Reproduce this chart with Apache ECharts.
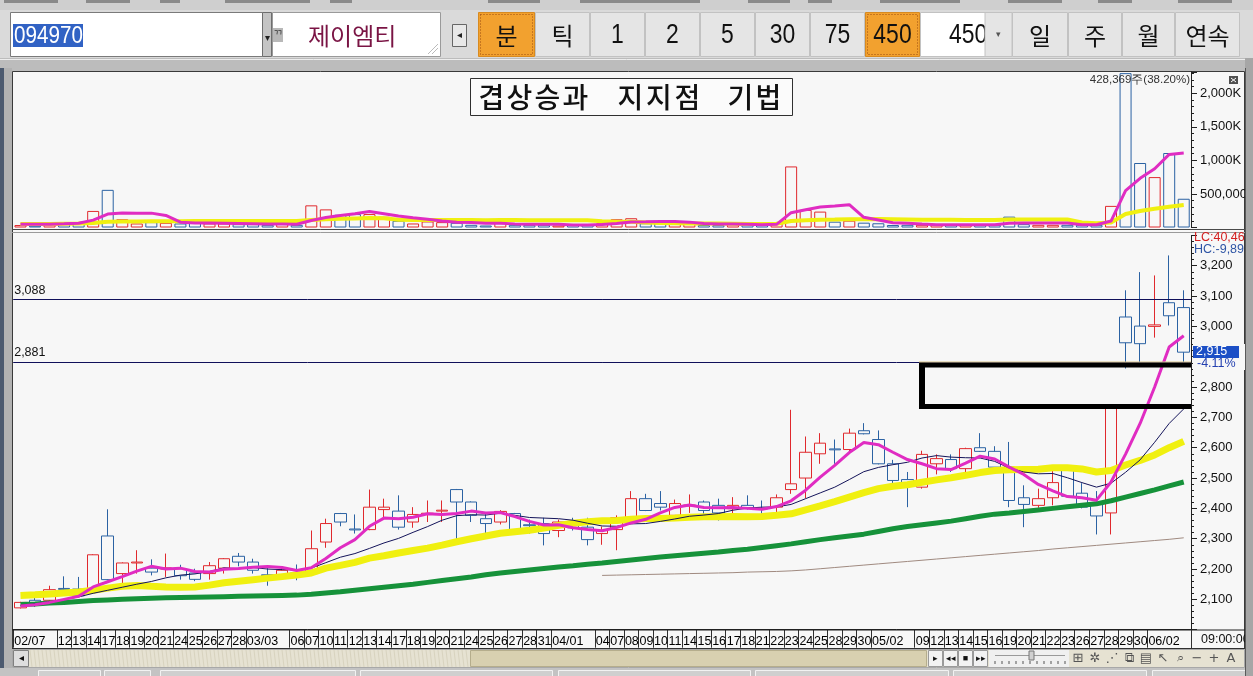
<!DOCTYPE html>
<html><head><meta charset="utf-8">
<script src="https://cdn.jsdelivr.net/npm/echarts@6/dist/echarts.min.js"></script>
<style>html,body{margin:0;padding:0;background:#c9c9c9;overflow:hidden}#c{width:1253px;height:676px}</style>
</head><body><div id="c"></div>
<script>
// ---------------- data ----------------
const dateLabels = ['02/07','','','12','13','14','17','18','19','20','21','24','25','26','27','28','03/03','','','06','07','10','11','12','13','14','17','18','19','20','21','24','25','26','27','28','31','04/01','','','04','07','08','09','10','11','14','15','16','17','18','21','22','23','24','25','28','29','30','05/02','','','09','12','13','14','15','16','19','20','21','22','23','26','27','28','29','30','06/02','',''];
const opens  = [2072,2097,2097,2136,2134,2124,2309,2185,2220,2203,2200,2201,2187,2185,2203,2242,2223,2181,2180,2187,2185,2289,2383,2332,2330,2396,2391,2355,2381,2391,2462,2421,2366,2355,2383,2346,2350,2327,2350,2338,2317,2330,2366,2432,2416,2377,2408,2421,2410,2399,2410,2400,2404,2462,2500,2580,2596,2594,2656,2627,2547,2495,2470,2547,2561,2531,2600,2588,2536,2435,2410,2435,2528,2450,2415,2385,3031,3001,3000,3078,3062];
const closes = [2090,2082,2132,2133,2112,2247,2165,2220,2223,2190,2204,2178,2166,2211,2234,2223,2196,2178,2196,2184,2267,2350,2355,2329,2404,2404,2338,2380,2384,2394,2421,2377,2350,2390,2327,2343,2317,2355,2336,2297,2327,2369,2432,2393,2404,2416,2411,2393,2385,2410,2401,2398,2435,2481,2585,2615,2593,2648,2646,2547,2492,2473,2578,2564,2531,2597,2588,2536,2426,2413,2432,2485,2440,2404,2375,2732,2946,2943,3005,3035,2915];
const highs  = [2092,2113,2145,2176,2174,2249,2397,2222,2262,2232,2251,2214,2201,2223,2236,2253,2234,2209,2206,2215,2327,2366,2385,2380,2462,2432,2443,2404,2426,2426,2464,2423,2383,2394,2385,2363,2369,2363,2369,2369,2340,2377,2457,2448,2457,2429,2446,2426,2432,2437,2443,2426,2446,2725,2637,2648,2627,2663,2681,2657,2560,2520,2590,2578,2578,2600,2648,2605,2619,2476,2465,2531,2530,2483,2457,2735,3119,3179,3168,3234,3119];
const lows   = [2070,2075,2086,2127,2110,2120,2163,2146,2185,2179,2174,2165,2160,2165,2185,2209,2185,2145,2174,2163,2183,2270,2341,2317,2328,2369,2330,2336,2355,2355,2297,2355,2314,2347,2325,2317,2278,2305,2327,2278,2280,2262,2360,2391,2393,2366,2385,2369,2360,2383,2396,2383,2369,2448,2433,2547,2547,2580,2644,2545,2475,2404,2465,2512,2520,2512,2586,2520,2404,2338,2402,2410,2438,2400,2314,2314,2861,2882,2963,3003,2880];
const volumesK = [37,27,78,78,78,247,561,123,60,80,70,60,70,60,60,50,50,40,60,40,330,270,190,200,200,160,100,60,90,80,70,40,30,90,40,40,40,30,40,40,63,123,138,63,63,63,72,37,37,50,37,37,72,910,262,237,87,102,72,63,37,40,40,40,40,40,40,40,162,50,40,40,40,40,40,322,2300,961,751,1110,428.369];
const volMa5K  = [50,50,50,55,62,110,200,215,214,214,180,80,68,68,64,60,56,52,52,48,104,148,178,206,238,204,170,144,122,98,80,76,62,62,54,48,48,48,38,38,43,59,81,85,90,90,80,60,54,52,47,40,47,221,264,304,320,340,152,112,72,63,51,40,40,40,40,40,64,66,66,66,66,42,40,96,548,733,875,1089,1110];
const volMa20K = [52,52,54,56,58,68,85,88,90,92,93,94,95,95,96,96,96,95,96,96,111,123,129,135,141,137,114,110,112,112,112,111,109,110,110,109,108,108,107,107,93,86,84,76,68,64,61,60,58,56,54,54,55,96,107,117,119,123,124,126,124,120,116,114,114,113,112,112,119,119,119,119,119,76,64,75,200,245,280,310,335];
const ma5   = [2078,2082,2090,2100,2110,2141,2158,2175,2193,2209,2200,2203,2192,2190,2199,2202,2206,2208,2205,2195,2204,2235,2270,2297,2341,2368,2366,2371,2382,2380,2383,2391,2385,2386,2373,2357,2345,2346,2336,2330,2326,2337,2352,2364,2385,2403,2411,2403,2402,2403,2400,2397,2406,2425,2460,2503,2542,2584,2617,2610,2585,2561,2547,2531,2528,2549,2572,2563,2536,2512,2479,2458,2439,2435,2427,2487,2579,2680,2800,2932,2969];
const ma10  = [2080,2085,2092,2100,2108,2120,2130,2140,2150,2159,2171,2180,2184,2192,2204,2201,2205,2200,2198,2197,2203,2221,2239,2251,2268,2286,2301,2321,2340,2361,2376,2379,2378,2384,2377,2370,2368,2366,2361,2351,2342,2341,2349,2350,2357,2365,2374,2378,2383,2394,2401,2404,2405,2413,2432,2451,2470,2495,2521,2535,2544,2552,2566,2574,2569,2567,2566,2555,2533,2520,2514,2515,2501,2485,2470,2483,2519,2560,2618,2680,2728];
const ma20  = [2113,2115,2118,2121,2124,2130,2137,2143,2146,2143,2141,2140,2141,2147,2155,2160,2165,2170,2175,2180,2187,2203,2212,2222,2236,2244,2253,2261,2269,2279,2290,2300,2309,2318,2323,2328,2335,2344,2351,2356,2359,2360,2364,2367,2367,2368,2371,2372,2372,2373,2372,2373,2377,2382,2395,2408,2422,2437,2452,2465,2473,2478,2486,2494,2501,2509,2518,2525,2527,2528,2529,2534,2534,2530,2520,2525,2543,2558,2576,2600,2621];
const ma60  = [2083,2085,2088,2090,2093,2096,2098,2100,2102,2104,2105,2106,2107,2108,2109,2110,2111,2112,2113,2114,2117,2121,2125,2130,2135,2140,2145,2150,2156,2162,2168,2174,2181,2187,2192,2197,2202,2207,2211,2216,2220,2225,2230,2235,2240,2244,2248,2252,2256,2261,2265,2271,2277,2283,2290,2297,2303,2309,2315,2324,2333,2340,2346,2352,2358,2366,2374,2381,2385,2390,2395,2400,2405,2410,2415,2425,2437,2449,2461,2474,2487];
const ma120 = [null,null,null,null,null,null,null,null,null,null,null,null,null,null,null,null,null,null,null,null,null,null,null,null,null,null,null,null,null,null,null,null,null,null,null,null,null,null,null,null,2179,2180,2181,2182,2183,2184,2185,2186,2187,2188,2190,2191,2192,2194,2197,2201,2205,2209,2213,2217,2221,2225,2229,2233,2237,2241,2245,2249,2253,2257,2261,2266,2270,2274,2278,2282,2286,2290,2294,2298,2303];
const priceLines = [3088, 2881];
const gapZone = {startIndex: 62, top: 2881, bottom: 2728};
const lastInfo = {close: '2,915', change: '-4.11%', volText: '428,369주(38.20%)', lc: 'LC:40,46', hc: 'HC:-9,89', time: '09:00:00'};
const titleWords = ['겹상승과', '지지점', '기법'];
const toolbarButtons = [['분',478,535,true],['틱',535,590,false],['1',590,645,false],['2',645,700,false],['5',700,755,false],['30',755,810,false],['75',810,865,false],['450',865,920,true],['일',1012,1068,false],['주',1068,1122,false],['월',1122,1175,false],['연속',1175,1240,false]];

// ---------------- styles ----------------
const RED='#e0292d', BLUE='#2b62a3', MAG='#e02cc2', YEL='#f0f010', GRN='#16923a', NAVY='#14145a', BRN='#a08a80';
const SANS="'Liberation Sans',Arial,sans-serif";
const KR="'Noto Sans CJK KR','Noto Sans',sans-serif";
const GL=13.2, GW=1177.8;

const chart = echarts.init(document.getElementById('c'), null, {renderer:'canvas', width:1253, height:676});
const volumes = volumesK.map(v=>Math.round(v*1000));
const volData = volumes.map((v,i)=>({value:v, itemStyle:{borderColor: closes[i]>=opens[i]?RED:BLUE}}));
const candleData = opens.map((o,i)=>[o, closes[i], lows[i], highs[i]]);
function fmtVol(v){ if(v===0||v%500000!==0) return ''; if(v===500000) return '500,000'; return (v/1000).toLocaleString('en-US')+'K'; }

const option = {
  animation:false,
  backgroundColor:'#c9c9c9',
  grid:[
    {left:GL, width:GW, top:71.8, height:155.7},
    {left:GL, width:GW, top:235.4, height:394.3}
  ],
  xAxis:[
    {type:'category', gridIndex:0, data:dateLabels, boundaryGap:true, axisLine:{show:false}, axisTick:{show:false}, axisLabel:{show:false}},
    {type:'category', gridIndex:1, data:dateLabels, boundaryGap:true, axisLine:{show:false}, axisTick:{show:false}, axisLabel:{show:false}},
    {type:'category', gridIndex:1, data:dateLabels.concat(['']), boundaryGap:false, position:'bottom',
      axisLine:{show:true, lineStyle:{color:'#202020', width:1}},
      axisTick:{show:true, length:18, interval:(i,v)=>v!=='', lineStyle:{color:'#303030'}},
      axisLabel:{interval:0, align:'left', margin:5, fontSize:12.5, fontFamily:SANS, color:'#000', padding:[0,0,0,1], hideOverlap:false}}
  ],
  yAxis:[
    {type:'value', gridIndex:0, position:'right', min:0, max:2320000, interval:500000, splitLine:{show:false},
      axisLine:{show:true, lineStyle:{color:'#202020'}}, axisTick:{show:true, length:6, lineStyle:{color:'#202020'}},
      minorTick:{show:true, splitNumber:5, length:3, lineStyle:{color:'#202020'}},
      axisLabel:{margin:9, fontSize:13, fontFamily:SANS, color:'#111', formatter:fmtVol}},
    {type:'value', gridIndex:1, position:'right', min:2000, max:3300, interval:100, splitLine:{show:false},
      axisLine:{show:true, lineStyle:{color:'#202020'}}, axisTick:{show:true, length:6, lineStyle:{color:'#202020'}},
      minorTick:{show:true, splitNumber:5, length:3, lineStyle:{color:'#202020'}},
      axisLabel:{margin:9, fontSize:13, fontFamily:SANS, color:'#111', formatter:v=>(v<=2000||v>=3300)?'':v.toLocaleString('en-US')}}
  ],
  series:[
    {type:'bar', xAxisIndex:0, yAxisIndex:0, data:volData, barWidth:12, itemStyle:{color:'rgba(0,0,0,0)', borderWidth:1}, silent:true},
    {type:'line', xAxisIndex:0, yAxisIndex:0, data:volMa20K.map(v=>v*1000), symbol:'none', lineStyle:{color:YEL, width:4}, silent:true},
    {type:'line', xAxisIndex:0, yAxisIndex:0, data:volMa5K.map(v=>v*1000), symbol:'none', lineStyle:{color:MAG, width:3}, silent:true},
    {type:'line', xAxisIndex:1, yAxisIndex:1, data:ma60, symbol:'none', lineStyle:{color:GRN, width:5}, silent:true},
    {type:'line', xAxisIndex:1, yAxisIndex:1, data:ma20, symbol:'none', lineStyle:{color:YEL, width:7}, silent:true},
    {type:'line', xAxisIndex:1, yAxisIndex:1, data:ma120, symbol:'none', lineStyle:{color:BRN, width:1}, silent:true},
    {type:'line', xAxisIndex:1, yAxisIndex:1, data:ma10, symbol:'none', lineStyle:{color:NAVY, width:1}, silent:true},
    {type:'line', xAxisIndex:1, yAxisIndex:1, data:ma5, symbol:'none', lineStyle:{color:MAG, width:3}, silent:true},
    {type:'candlestick', xAxisIndex:1, yAxisIndex:1, data:candleData, barWidth:12, silent:true,
      itemStyle:{color:'rgba(0,0,0,0)', color0:'rgba(0,0,0,0)', borderColor:RED, borderColor0:BLUE, borderWidth:1},
      markLine:{silent:true, symbol:'none', animation:false,
        lineStyle:{color:'#10105a', width:1, type:'solid'},
        label:{position:'insideStartTop', color:'#111', fontSize:12.5, fontFamily:SANS, distance:[1,3], formatter:p=>p.value.toLocaleString('en-US')},
        data:priceLines.map(v=>({yAxis:v}))}}
  ]
};
chart.setOption(option);

// ---------------- chrome / annotations ----------------
const g = [];
function rect(x,y,w,h,fill,stroke,z,lw){ g.push({type:'rect', z:z||0, shape:{x,y,width:w,height:h}, style:{fill:fill||'none', stroke:stroke||null, lineWidth:lw||1}, silent:true}); }
function line(x1,y1,x2,y2,stroke,z,lw,dash){ g.push({type:'line', z:z||0, shape:{x1,y1,x2,y2}, style:{stroke, lineWidth:lw||1, lineDash:dash||null}, silent:true}); }
function text(t,x,y,font,fill,align,z,sx){ g.push({type:'text', z:z||0, x, y, scaleX:sx||1, style:{text:t, font, fill, textAlign:align||'left', textVerticalAlign:'middle'}, silent:true}); }

// backgrounds
rect(0,0,1253,10,'#cfcfcf',null,-10);
[[4,58],[86,130],[160,180],[225,310],[330,352],[488,540],[580,700],[748,790],[808,832],[880,960],[1008,1062],[1098,1132],[1178,1232]].forEach(([a,b])=>rect(a,0,b-a,3,'#8a8a8a',null,-9));
rect(0,10,1253,49,'#dadada',null,-10);
rect(0,58,1253,14,'#bcbcbc',null,-10);
line(0,59.5,1253,59.5,'#ededed',-9);
rect(0,68,4,608,'#4c5a6f',null,-9);
rect(4,68,8,608,'#b2b2b2',null,-9);
rect(12.5,71.5,1232,577,'#f7f7f7','#3a3a3a',-8);
// pane separators
line(12,229.5,1245,229.5,'#4a4a4a',5);
line(12,232.5,1245,232.5,'#9a9a9a',5);
line(12,630,1245,630,'#202020',5);
line(12,648.5,1245,648.5,'#303030',5);
line(1191.5,630,1191.5,648,'#303030',5);
text(lastInfo.time,1201,640,'12.5px '+SANS,'#111','left',5);

// toolbar
rect(10.5,12.5,252,44,'#ffffff','#7a7a7a',1);
rect(13,24,70,23,'#3162c4',null,2);
text('094970',14,36,'24px '+SANS,'#ffffff','left',3,0.86);
rect(262.5,12.5,9,44,'#c4c4c4','#6e6e6e',2);
text('▾',267,38,'10px sans-serif','#222','center',3);
rect(272.5,12.5,168,44,'#ffffff','#9a9a9a',1);
rect(273,28,10,14,'#b8b8b8',null,2);
text('ᄁ',278,35,'11px '+KR,'#333','center',3);
text('제이엠티',308,36,'24px '+KR,'#7a1444','left',3);
line(428,54,438,44,'#bbb',3); line(432,54,438,48,'#bbb',3);
rect(452.5,24.5,14,22,'#e8e8e8','#666',1);
text('◂',459.5,35.5,'10px sans-serif','#222','center',3);
toolbarButtons.forEach(([t,x0,x1,on])=>{
  rect(x0+0.5,12.5,x1-x0-1,44, on?'#f2a12f':'#e5e5e5', on?'#d88a20':'#c2c2c2',1);
  if(on){ g.push({type:'rect', z:2, shape:{x:x0+2.5,y:14.5,width:x1-x0-5,height:40}, style:{fill:'none', stroke:'#9a4a10', lineWidth:1, lineDash:[1,2]}, silent:true}); }
  const isNum = /^[0-9]+$/.test(t);
  if(isNum){ g.push({type:'text', z:3, x:(x0+x1)/2, y:35.5, scaleX:0.85, style:{text:t, font:'27px '+SANS, fill:'#111', textAlign:'center', textVerticalAlign:'middle'}, silent:true}); }
  else text(t,(x0+x1)/2,35.5,'24px '+KR,'#111','center',3);
});
rect(920.5,12.5,66,44,'#ffffff','#c2c2c2',1);
text('450',949,35.5,'27px '+SANS,'#111','left',3,0.85);
rect(985,12.5,27,44,'#e5e5e5','#c2c2c2',4);
text('▾',998,35,'9px sans-serif','#555','center',5);

// title box (each syllable placed on the original's wide spacing)
rect(470.5,78.5,322,37,'#fbfbfb','#303030',6);
const wordStart=[478,617,727], adv=[28,28.5,28];
titleWords.forEach((w,k)=>{ [...w].forEach((ch,i)=>text(ch, wordStart[k]+i*adv[k]+13.5, 97.5, '500 28px '+KR, '#111','center',7)); });

// volume info + icon
text(lastInfo.volText,1190,80,'11.5px '+SANS,'#333','right',6);
rect(1229,76,9,8,'#505050',null,6);
line(1231,78,1236,82,'#fff',7); line(1236,78,1231,82,'#fff',7);

// price side texts
text(lastInfo.lc,1194,238,'12.5px '+SANS,'#d42222','left',6);
text(lastInfo.hc,1194,250,'12.5px '+SANS,'#2f55a5','left',6);
rect(1193,344,52,26,'#f7f7f7',null,6);
rect(1193,346,46,12,'#1c4fc6',null,7);
text(lastInfo.close,1196,352,'12.5px '+SANS,'#ffffff','left',8);
text(lastInfo.change,1197,364,'12.5px '+SANS,'#2440b0','left',8);

// gap zone box (open on the right, runs into the axis)
const xs = chart.convertToPixel({xAxisIndex:1}, gapZone.startIndex) - 3;
const yTop = chart.convertToPixel({yAxisIndex:1}, gapZone.top);
const yBot = chart.convertToPixel({yAxisIndex:1}, gapZone.bottom);
const xe = GL+GW;
rect(xs, yTop, xe-xs, 5, '#000', null, 20);
rect(xs, yBot-5, xe-xs, 5, '#000', null, 20);
rect(xs, yTop, 6, yBot-yTop, '#000', null, 20);
line(xs,yTop-0.5,xe,yTop-0.5,'#d8c488',21);

// scrollbar row
rect(12.5,649.5,1232,18,'#e6e2d2','#a8a8a8',6);
for(let x=30;x<470;x+=4){ line(x,650,x+2,667,'#d8d3bf',6); }
rect(13.5,650.5,15,16,'#dedede','#808080',7);
text('◂',21,658.5,'10px sans-serif','#111','center',8);
rect(470.5,650.5,456,16,'#d8d0b0','#b5ad8c',7);
const ctl=['▸','◂◂','■','▸▸'];
ctl.forEach((t,i)=>{ rect(928.5+i*15,650.5,14,16,'#f2f2f2','#9a9a9a',7); text(t,935.5+i*15,658.5,'9px sans-serif','#111','center',8); });
rect(989,650,80,17,'#f0f0f0',null,7);
line(995,655.5,1065,655.5,'#9a9a9a',8);
for(let x=995;x<=1065;x+=7){ line(x,661,x,664,'#555',8); }
rect(1029,651,5,9,'#d0d0d0','#777',9);
const icons=['⊞','✲','⋰','⧉','▤','↖','⌕','−','+','A'];
icons.forEach((t,i)=>text(t,1078+i*17,658.5,'13px DejaVu Sans, sans-serif','#555','center',8));
rect(0,668,1253,8,'#c3c3c3',null,6);
[[38,100],[104,150],[160,355],[360,552],[558,750],[755,948],[953,1146],[1152,1245]].forEach(([a,b])=>rect(a+0.5,670.5,b-a,8,'#cfcfcf','#f2f2f2',7));

// right border (clips overflowing text)
rect(1245,58,8,618,'#a6a6a6',null,30);
line(1245.5,68,1245.5,676,'#5a5a5a',31);

chart.setOption({graphic:g});
</script>
</body></html>
